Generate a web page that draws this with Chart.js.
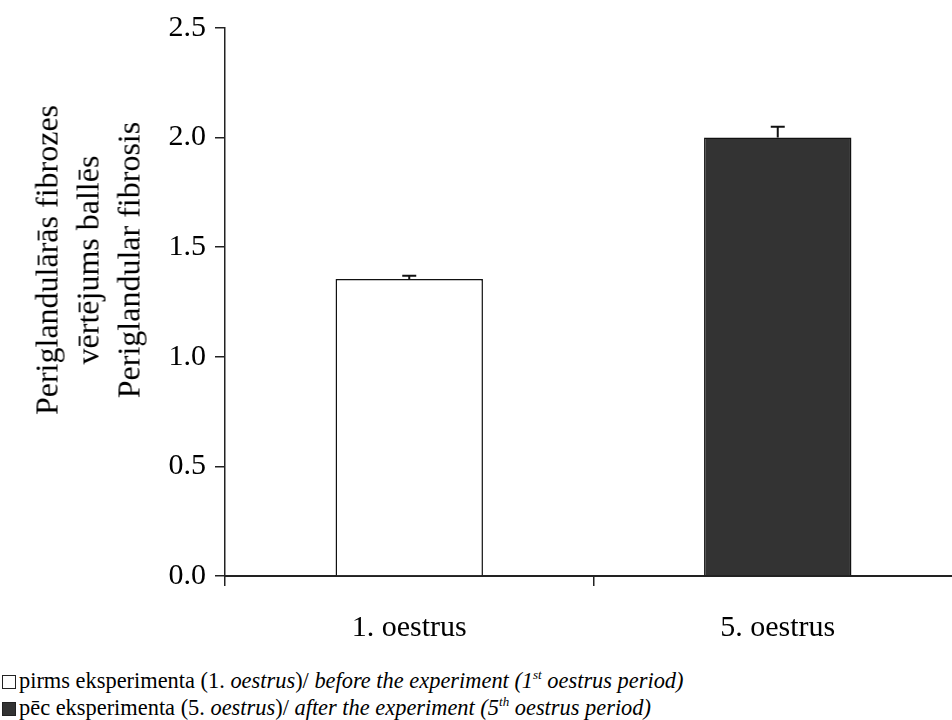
<!DOCTYPE html>
<html>
<head>
<meta charset="utf-8">
<script src="https://cdn.jsdelivr.net/npm/chart.js@4/dist/chart.umd.min.js"></script>
<style>
  html, body { margin: 0; padding: 0; background: #fff; overflow: hidden; }
  body { width: 952px; height: 720px; position: relative; color: #000; }
  .chart-box { position: absolute; left: 0; top: 0; width: 965px; height: 660px; }
  .y-title {
    position: absolute; left: 88px; top: 260px; width: 440px;
    transform: translate(-50%, -50%) rotate(-90deg);
    font-family: 'Liberation Serif', serif;
    text-align: center; font-size: 32px; line-height: 41px; white-space: nowrap;
  }
  .legend {
    position: absolute; left: 2px; top: 667px;
    font-family: 'Liberation Serif', serif;
    font-size: 22.4px; line-height: 27px; white-space: nowrap;
  }
  .legend__box { display: inline-block; width: 12px; height: 12px; border: 1px solid #222; margin-right: 3px; vertical-align: -1px; }
  .legend sup { font-size: 13px; vertical-align: 9px; line-height: 0; }
</style>
</head>
<body>
<div class="chart-box"><canvas id="chart" width="965" height="660"></canvas></div>
<div class="y-title">Periglandulārās fibrozes<br>vērtējums ballēs<br>Periglandular fibrosis</div>
<div class="legend">
  <div><span class="legend__box" style="background:#fff"></span>pirms eksperimenta (1. <i>oestrus</i>)/ <i>before the experiment (1<sup>st</sup> oestrus period)</i></div>
  <div><span class="legend__box" style="background:#333"></span>pēc eksperimenta (5. <i>oestrus</i>)/ <i>after the experiment (5<sup>th</sup> oestrus period)</i></div>
</div>
<script>
const categories = ["1. oestrus", "5. oestrus"];
const scores = [1.355, 2.0];
const scoreErrors = [0.015, 0.05];
const barColors = ["#ffffff", "#333333"];

const FONT = "'Liberation Serif', serif";

// only the upper half of each error bar is drawn, like in the original figure
const errorBars = {
  id: "errorBars",
  afterDatasetsDraw(chart) {
    const { ctx, scales } = chart;
    const meta = chart.getDatasetMeta(0);
    ctx.save();
    ctx.strokeStyle = "#111";
    ctx.lineWidth = 2;
    meta.data.forEach((bar, i) => {
      const yTop = scales.y.getPixelForValue(scores[i] + scoreErrors[i]);
      ctx.beginPath();
      ctx.moveTo(bar.x, bar.y);
      ctx.lineTo(bar.x, yTop);
      ctx.moveTo(bar.x - 7, yTop);
      ctx.lineTo(bar.x + 7, yTop);
      ctx.stroke();
    });
    ctx.restore();
  },
};

new Chart(document.getElementById("chart"), {
  type: "bar",
  data: {
    labels: categories,
    datasets: [
      {
        data: scores,
        backgroundColor: barColors,
        borderColor: "#111",
        borderWidth: 1.5,
        categoryPercentage: 1,
        barPercentage: 0.4,
      },
    ],
  },
  options: {
    responsive: false,
    animation: false,
    layout: { padding: { top: 28, right: 3, left: 0, bottom: 0 } },
    plugins: { legend: { display: false }, tooltip: { enabled: false } },
    scales: {
      y: {
        min: 0,
        max: 2.5,
        afterFit(scale) {
          scale.width = 225;
        },
        border: { display: true, color: "#222", width: 1.5 },
        grid: { drawOnChartArea: false, color: "#222", tickLength: 10, lineWidth: 1.5 },
        ticks: {
          stepSize: 0.5,
          padding: 9,
          color: "#000",
          font: { family: FONT, size: 30 },
          callback: (v) => v.toFixed(1),
        },
      },
      x: {
        afterFit(scale) {
          scale.height = 84;
        },
        border: { display: true, color: "#222", width: 2 },
        grid: { drawOnChartArea: false, color: "#222", tickLength: 10, lineWidth: 1.5, offset: true },
        ticks: {
          padding: 24,
          color: "#000",
          font: { family: FONT, size: 30 },
        },
      },
    },
  },
  plugins: [errorBars],
});
</script>
</body>
</html>
